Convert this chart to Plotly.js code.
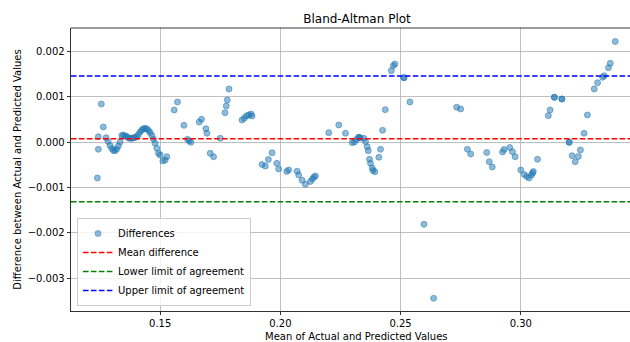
<!DOCTYPE html>
<html>
<head>
<meta charset="utf-8">
<script src="https://cdn.plot.ly/plotly-3.0.1.min.js"></script>
<style>
  html, body { margin: 0; padding: 0; background: #ffffff; }
  #chart { width: 630px; height: 342px; }
</style>
</head>
<body>
<div id="chart"></div>
<script>
// Mean of actual and predicted values (x)
const meanValues = [
  0.12388, 0.12429, 0.12429, 0.12554, 0.12638, 0.12750, 0.12833, 0.12917, 0.12988, 0.13054,
  0.13125, 0.13196, 0.13263, 0.13333, 0.13404, 0.13471, 0.13542, 0.13613, 0.13680, 0.13750,
  0.13821, 0.13888, 0.13958, 0.14029, 0.14096, 0.14167, 0.14238, 0.14304, 0.14375, 0.14446,
  0.14513, 0.14583, 0.14654, 0.14721, 0.14792, 0.14863, 0.14929, 0.15000, 0.15113, 0.15208,
  0.15279,
  0.15583, 0.15721, 0.15988, 0.16138, 0.16208, 0.16279, 0.16625, 0.16721, 0.16904, 0.16946,
  0.17083, 0.17221, 0.17500, 0.17696, 0.17750, 0.17792, 0.17863, 0.18404, 0.18500, 0.18583,
  0.18679, 0.18779, 0.18821,
  0.19238, 0.19375, 0.19500, 0.19654, 0.19854, 0.19929, 0.20263, 0.20346, 0.20696, 0.20763,
  0.20904, 0.21042, 0.21250, 0.21333, 0.21396, 0.21458,
  0.22013, 0.22429, 0.22708, 0.22988, 0.23083, 0.23167, 0.23263, 0.23263, 0.23333, 0.23471,
  0.23542, 0.23613, 0.23654, 0.23708, 0.23750, 0.23821, 0.23854, 0.23929, 0.24096, 0.24167,
  0.24250, 0.24363, 0.24613, 0.24696, 0.24763, 0.25138, 0.25138, 0.25388,
  0.25971, 0.26375, 0.27333, 0.27500, 0.27779, 0.27917, 0.28583, 0.28688, 0.28813, 0.29238,
  0.29304, 0.29542, 0.29654, 0.29763, 0.30000, 0.30138, 0.30250, 0.30346, 0.30446, 0.30488,
  0.30521, 0.30696,
  0.31146, 0.31217, 0.31396, 0.31396, 0.31708, 0.31708, 0.32013, 0.32013, 0.32138, 0.32263,
  0.32396, 0.32480, 0.32633, 0.32771, 0.33054, 0.33196, 0.33404, 0.33471, 0.33646, 0.33721,
  0.33929
];

// Difference between actual and predicted values (y)
const diffValues = [
  -0.000788, -0.000155, 0.000124, 0.000845, 0.000338, 0.000102, 0.000018, -0.000071, -0.000137, -0.000181,
  -0.000185, -0.000148, -0.000082, 0.000007, 0.000150, 0.000161, 0.000139, 0.000128, 0.000095, 0.000088,
  0.000084, 0.000102, 0.000106, 0.000128, 0.000172, 0.000227, 0.000272, 0.000298, 0.000309, 0.000294,
  0.000260, 0.000216, 0.000150, 0.000073, -0.000022, -0.000132, -0.000243, -0.000280, -0.000413, -0.000391,
  -0.000318,
  0.000713, 0.000890, 0.000375, 0.000066, 0.000030, 0.000000, 0.000448, 0.000508, 0.000300, 0.000199,
  -0.000243, -0.000318, 0.000088, 0.000653, 0.000801, 0.000934, 0.001177, 0.000492, 0.000530, 0.000581,
  0.000603, 0.000625, 0.000581,
  -0.000490, -0.000523, -0.000380, -0.000230, -0.000464, -0.000589, -0.000645, -0.000611, -0.000638, -0.000722,
  -0.000839, -0.000927, -0.000865, -0.000810, -0.000766, -0.000744,
  0.000212, 0.000382, 0.000199, -0.000009, 0.000007, 0.000062, 0.000110, 0.000110, 0.000095, 0.000088,
  0.000013, -0.000097, -0.000185, -0.000375, -0.000464, -0.000567, -0.000623, -0.000649, -0.000331, -0.000155,
  0.000265, 0.000720, 0.001581, 0.001691, 0.001728, 0.001426, 0.001426, 0.000890,
  -0.001810, -0.003444, 0.000773, 0.000735, -0.000155, -0.000258, -0.000225, -0.000428, -0.000545, -0.000214,
  -0.000159, -0.000115, -0.000208, -0.000318, -0.000611, -0.000711, -0.000755, -0.000788, -0.000722, -0.000678,
  -0.000645, -0.000375,
  0.000587, 0.000713, 0.000993, 0.000993, 0.000956, 0.000956, 0.000000, 0.000000, -0.000296, -0.000428,
  -0.000313, -0.000170, 0.000199, 0.000603, 0.001177, 0.001316, 0.001435, 0.001470, 0.001647, 0.001744,
  0.002225
];

// Reference lines
const meanDifference = 0.0000765;
const lowerLimit = -0.001311;
const upperLimit = 0.001464;

// Axis ticks
const xTickVals = [0.15, 0.20, 0.25, 0.30];
const xTickText = ["0.15", "0.20", "0.25", "0.30"];
const yTickVals = [-0.003, -0.002, -0.001, 0.000, 0.001, 0.002];
const yTickText = ["\u22120.003", "\u22120.002", "\u22120.001", "0.000", "0.001", "0.002"];

const xRange = [0.11292, 0.34542];
const yRange = [-0.003724, 0.002523];

const FONT = "DejaVu Sans, Liberation Sans, sans-serif";
const dash = "5.55px,2.4px";

function hline(yVal, color, name) {
  return {
    type: "scatter", mode: "lines", name: name,
    x: xRange, y: [yVal, yVal],
    line: { color: color, width: 1.5, dash: dash },
    hoverinfo: "skip"
  };
}

const traces = [
  {
    type: "scatter", mode: "markers", name: "Differences",
    x: meanValues, y: diffValues,
    marker: { size: 6, color: "rgba(31,119,180,0.5)", line: { color: "rgba(31,119,180,0.5)", width: 1 } }
  },
  hline(meanDifference, "rgb(255,0,0)", "Mean difference"),
  hline(lowerLimit, "rgb(0,128,0)", "Lower limit of agreement"),
  hline(upperLimit, "rgb(0,0,255)", "Upper limit of agreement")
];

const axisCommon = {
  showgrid: true, gridcolor: "#b0b0b0", gridwidth: 0.8,
  zeroline: false, showline: true, linecolor: "#000000", linewidth: 0.8,
  ticks: "outside", ticklen: 3.5, tickwidth: 0.8, tickcolor: "#000000",
  tickfont: { family: FONT, size: 10, color: "#000000" },
  tickmode: "array"
};

const layout = {
  width: 630, height: 342,
  margin: { l: 71, r: 0, t: 28, b: 31, pad: 0 },
  paper_bgcolor: "#ffffff", plot_bgcolor: "#ffffff",
  font: { family: FONT, size: 10, color: "#000000" },
  title: {
    text: "Bland-Altman Plot",
    font: { family: FONT, size: 12, color: "#000000" },
    xref: "container", yref: "container",
    x: 357 / 630, xanchor: "center",
    y: 1 - 18.3 / 342, yanchor: "middle"
  },
  xaxis: Object.assign({}, axisCommon, {
    range: xRange, tickvals: xTickVals, ticktext: xTickText
  }),
  yaxis: Object.assign({}, axisCommon, {
    range: yRange, tickvals: yTickVals, ticktext: yTickText,
    title: { text: "Difference between Actual and Predicted Values", font: { family: FONT, size: 10, color: "#000000" }, standoff: 4 }
  }),
  shapes: [
    { type: "line", xref: "paper", yref: "paper", x0: 0, x1: 1, y0: 1, y1: 1, line: { color: "#000000", width: 0.8 } }
  ],
  annotations: [
    {
      text: "Mean of Actual and Predicted Values",
      xref: "paper", yref: "paper", x: (356 - 71) / 559, y: 0,
      xanchor: "center", yanchor: "middle", yshift: -25.7,
      showarrow: false, font: { family: FONT, size: 10, color: "#000000" }
    }
  ],
  showlegend: true,
  legend: {
    x: 6 / 559, y: 5 / 283, xanchor: "left", yanchor: "bottom",
    bgcolor: "rgba(255,255,255,0.8)", bordercolor: "#cccccc", borderwidth: 1,
    font: { family: FONT, size: 10, color: "#000000" },
    tracegroupgap: 0
  }
};

Plotly.newPlot("chart", traces, layout, { staticPlot: true, displayModeBar: false });
</script>
</body>
</html>
